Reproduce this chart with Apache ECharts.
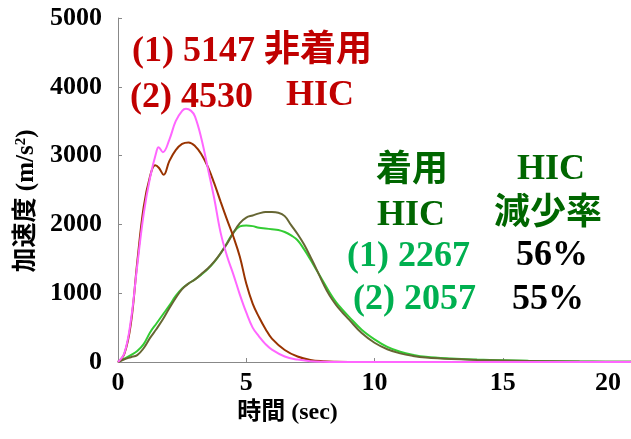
<!DOCTYPE html>
<html>
<head>
<meta charset="utf-8">
<script src="https://cdn.jsdelivr.net/npm/echarts@6/dist/echarts.min.js"></script>
<style>
html,body{margin:0;padding:0;background:#fff;}
#chart{width:631px;height:439px;}
</style>
</head>
<body>
<div id="chart"></div>
<script>
// time (sec) and acceleration (m/s^2) for each curve
const magentaT = [0,0.25,0.5,0.75,1.0,1.25,1.5,1.58,1.75,2.0,2.25,2.5,2.65,2.85,3.0,3.25,3.5,3.75,4.0,4.25,4.5,4.75,5.0,5.25,5.5,5.75,6.0,6.5,7.0,7.5,8.0,8.5,10,12,14,16,18,20];
const magentaV = [0,130,600,1400,2150,2680,3060,3120,3050,3230,3500,3650,3680,3650,3570,3250,2820,2380,1880,1540,1270,980,720,500,370,260,180,80,35,12,3,0,0,0,0,0,0,0];

const brownT = [0,0.25,0.5,0.75,1.0,1.25,1.45,1.6,1.78,2.0,2.25,2.5,2.75,3.0,3.25,3.5,3.75,4.0,4.25,4.5,4.75,5.0,5.25,5.5,5.75,6.0,6.5,7.0,7.5,8.0,8.5,9,12,16,20];
const brownV = [0,120,550,1450,2250,2700,2860,2820,2720,2920,3080,3170,3190,3140,3020,2840,2600,2330,2070,1820,1530,1140,850,650,480,340,175,80,30,10,2,0,0,0,0];

const oliveT = [0,0.25,0.5,0.75,1.0,1.25,1.5,1.75,2.0,2.25,2.5,2.75,3.0,3.25,3.5,3.75,4.0,4.25,4.5,4.75,5.0,5.25,5.5,5.75,6.0,6.25,6.5,6.75,7.0,7.25,7.5,7.75,8.0,8.25,8.5,8.75,9.0,9.5,10,10.5,11,11.5,12,13,14,15,16,17,18,19,20];
const oliveV = [0,40,70,100,200,350,480,620,780,930,1060,1140,1200,1280,1360,1460,1580,1720,1880,2020,2100,2130,2160,2180,2180,2170,2120,1990,1860,1710,1530,1340,1140,965,830,720,620,420,280,185,125,88,65,42,30,22,15,10,6,4,3];

const greenT = [0,0.25,0.5,0.75,1.0,1.25,1.5,1.75,2.0,2.25,2.5,2.75,3.0,3.25,3.5,3.75,4.0,4.25,4.5,4.75,5.0,5.25,5.5,5.75,6.0,6.25,6.5,6.75,7.0,7.25,7.5,7.75,8.0,8.25,8.5,8.75,9.0,9.5,10,10.5,11,11.5,12,13,14,15,16,17,18,19,20];
const greenV = [0,50,100,160,260,430,560,690,820,960,1070,1140,1200,1270,1350,1450,1580,1730,1880,1970,1985,1975,1950,1940,1930,1920,1890,1840,1770,1640,1490,1330,1170,1010,870,760,660,470,330,220,150,105,75,50,35,25,17,12,8,5,4];

const xTicks = {min: 0, max: 20, interval: 5};
const yTicks = {min: 0, max: 5000, interval: 1000};

function pairs(t, v) { return t.map((x, i) => [x, v[i]]); }

const serif = "'Liberation Serif', 'Times New Roman', 'Noto Sans CJK JP', serif";
const chart = echarts.init(document.getElementById('chart'), null, {renderer: 'canvas'});

function txt(x, y, text, color, align) {
  return {
    type: 'text', x: x, y: y, z: 100,
    style: {text: text, fill: color, font: "bold 36px " + serif,
            textAlign: align || 'left', textVerticalAlign: 'middle'}
  };
}

const red = '#C00000', dgreen = '#006600', mgreen = '#00B050';

chart.setOption({
  animation: false,
  backgroundColor: '#ffffff',
  grid: {left: 118, right: 0, top: 18, bottom: 77, containLabel: false},
  xAxis: {
    type: 'value', min: xTicks.min, max: xTicks.max, interval: xTicks.interval,
    name: '時間 (sec)', nameLocation: 'middle', nameGap: 39,
    nameTextStyle: {fontFamily: serif, fontWeight: 'bold', fontSize: 24, color: '#000', padding: [0, 174, 0, 0]},
    axisLine: {lineStyle: {color: '#888', width: 1}},
    axisTick: {show: true, inside: true, length: 4, lineStyle: {color: '#888'}},
    splitLine: {show: false},
    axisLabel: {fontFamily: serif, fontWeight: 'bold', fontSize: 26, color: '#000', margin: 8, alignMaxLabel: 'right',
      formatter: v => v === 20 ? '{r|20}' : String(v),
      rich: {r: {fontFamily: serif, fontWeight: 'bold', fontSize: 26, color: '#000', padding: [0, 10, 0, 0]}}}
  },
  yAxis: {
    type: 'value', min: yTicks.min, max: yTicks.max, interval: yTicks.interval,
    name: '加速度 (m/s{sup|2})', nameLocation: 'middle', nameGap: 68, nameRotate: 90,
    nameTextStyle: {fontFamily: serif, fontWeight: 'bold', fontSize: 25, color: '#000',
      padding: [0, 22, 0, 0],
      rich: {sup: {fontFamily: serif, fontWeight: 'bold', fontSize: 15, color: '#000', padding: [0, 0, 10, 0]}}},
    axisLine: {show: true, lineStyle: {color: '#888', width: 1}},
    axisTick: {show: true, inside: true, length: 4, lineStyle: {color: '#888'}},
    splitLine: {show: false},
    axisLabel: {fontFamily: serif, fontWeight: 'bold', fontSize: 26, color: '#000', margin: 16,
      formatter: v => String(v)}
  },
  series: [
    {type: 'line', data: pairs(greenT, greenV), showSymbol: false, smooth: 0.4,
     lineStyle: {color: '#33CC33', width: 2}, itemStyle: {color: '#33CC33'}, z: 2},
    {type: 'line', data: pairs(oliveT, oliveV), showSymbol: false, smooth: 0.4,
     lineStyle: {color: '#666633', width: 2}, itemStyle: {color: '#666633'}, z: 3},
    {type: 'line', data: pairs(brownT, brownV), showSymbol: false, smooth: 0.4,
     lineStyle: {color: '#993300', width: 2}, itemStyle: {color: '#993300'}, z: 4},
    {type: 'line', data: pairs(magentaT, magentaV), showSymbol: false, smooth: 0.4,
     lineStyle: {color: '#FF66FF', width: 2}, itemStyle: {color: '#FF66FF'}, z: 5}
  ],
  graphic: [
    txt(132, 52, '(1) 5147 非着用', red),
    txt(130, 98, '(2) 4530', red),
    txt(320, 96, 'HIC', red, 'center'),
    txt(412, 172, '着用', dgreen, 'center'),
    txt(551, 170, 'HIC', dgreen, 'center'),
    txt(411, 216, 'HIC', dgreen, 'center'),
    txt(548, 215, '減少率', dgreen, 'center'),
    txt(347, 257, '(1) 2267', mgreen),
    txt(552, 256, '56%', '#000', 'center'),
    txt(353, 300, '(2) 2057', mgreen),
    txt(548, 300, '55%', '#000', 'center')
  ]
});
</script>
</body>
</html>
